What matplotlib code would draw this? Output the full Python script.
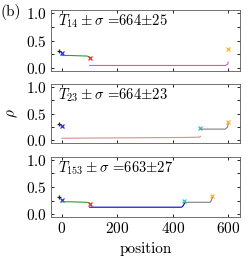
import matplotlib
matplotlib.use('Agg')
import matplotlib.pyplot as plt
from matplotlib.ticker import MultipleLocator

plt.rcParams['font.family'] = ['cmr10', 'DejaVu Serif']
plt.rcParams['mathtext.fontset'] = 'cm'
plt.rcParams['axes.formatter.use_mathtext'] = True

# Panel titles
titles = [r'$T_{14}\pm\sigma$ =664$\pm$25',
          r'$T_{23}\pm\sigma$ =664$\pm$23',
          r'$T_{153}\pm\sigma$ =663$\pm$27']

# start markers (same for all panels)
plus_x, plus_y = -12, 0.31
start_x, start_y = 0, 0.27

# Panel 1 segments
p1_green_x = [0, 30, 60, 90, 100]
p1_green_y = [0.23, 0.23, 0.225, 0.22, 0.20]
p1_red_x, p1_red_y = 100, 0.18
p1_purple_x = [100, 250, 400, 590, 598, 600]
p1_purple_y = [0.05, 0.05, 0.05, 0.05, 0.07, 0.11]
p1_orange_x, p1_orange_y = 600, 0.35

# Panel 2 segments
p2_red_x = [0, 150, 300, 450, 495, 500]
p2_red_y = [0.04, 0.045, 0.05, 0.055, 0.06, 0.075]
p2_cyan_x, p2_cyan_y = 500, 0.23
p2_gray_x = [500, 550, 590, 598, 600]
p2_gray_y = [0.21, 0.21, 0.21, 0.25, 0.31]
p2_orange_x, p2_orange_y = 600, 0.34

# Panel 3 segments
p3_green_x = [0, 30, 60, 90, 100]
p3_green_y = [0.23, 0.23, 0.225, 0.22, 0.20]
p3_red_x, p3_red_y = 100, 0.18
p3_blue_x = [100, 200, 300, 432, 438, 442]
p3_blue_y = [0.13, 0.13, 0.13, 0.13, 0.16, 0.2]
p3_cyan_x, p3_cyan_y = 442, 0.24
p3_gray_x = [442, 490, 535, 540, 543]
p3_gray_y = [0.22, 0.22, 0.22, 0.26, 0.31]
p3_orange_x, p3_orange_y = 543, 0.34

fig = plt.figure(figsize=(2.47, 2.64), dpi=100)
boxes = [(0.206, 0.731, 0.766, 0.231),
         (0.206, 0.458, 0.766, 0.224),
         (0.206, 0.178, 0.766, 0.227)]
axes = [fig.add_axes(b) for b in boxes]

mk = dict(markersize=3, mew=0.9, ls='none', alpha=0.85)
lw = 0.8

def starts(ax):
    ax.plot(plus_x, plus_y, '+', color='k', **mk)
    ax.plot(start_x, start_y, 'x', color='blue', **mk)

ax = axes[0]
starts(ax)
ax.plot(p1_green_x, p1_green_y, color='tab:green', lw=lw)
ax.plot(p1_red_x, p1_red_y, 'x', color='red', **mk)
ax.plot(p1_purple_x, p1_purple_y, color='darkmagenta', lw=lw, alpha=0.6)
ax.plot(p1_orange_x, p1_orange_y, 'x', color='orange', **mk)

ax = axes[1]
starts(ax)
ax.plot(p2_red_x, p2_red_y, color='firebrick', lw=lw, alpha=0.5)
ax.plot(p2_cyan_x, p2_cyan_y, 'x', color='c', **mk)
ax.plot(p2_gray_x, p2_gray_y, color='gray', lw=lw)
ax.plot(p2_orange_x, p2_orange_y, 'x', color='orange', **mk)

ax = axes[2]
starts(ax)
ax.plot(p3_green_x, p3_green_y, color='tab:green', lw=lw)
ax.plot(p3_red_x, p3_red_y, 'x', color='red', **mk)
ax.plot(p3_blue_x, p3_blue_y, color='mediumblue', lw=lw)
ax.plot(p3_cyan_x, p3_cyan_y, 'x', color='c', **mk)
ax.plot(p3_gray_x, p3_gray_y, color='gray', lw=lw)
ax.plot(p3_orange_x, p3_orange_y, 'x', color='orange', **mk)

for i, ax in enumerate(axes):
    ax.set_xlim(-40, 643)
    ax.set_ylim(-0.05, 1.05)
    ax.set_yticks([0.0, 0.5, 1.0])
    ax.yaxis.set_minor_locator(MultipleLocator(0.25))
    ax.set_xticks([0, 200, 400, 600])
    ax.tick_params(direction='in', top=True, right=True, which='both',
                   labelsize=11, length=2.5, width=0.6, pad=3)
    ax.tick_params(which='minor', length=2.5)
    for s in ax.spines.values():
        s.set_linewidth(0.6)
        s.set_color('0.35')
    ax.text(0.04, 0.96, titles[i], transform=ax.transAxes, ha='left',
            va='top', fontsize=10.5)
    if i < 2:
        ax.set_xticklabels([])

axes[2].set_xlabel('position', fontsize=11, labelpad=4)
axes[1].set_ylabel(r'$\rho$', fontsize=11, labelpad=4)
fig.text(0.0, 0.955, '(b)', fontsize=11, ha='left', va='center')

fig.savefig('out.png', dpi=100)
